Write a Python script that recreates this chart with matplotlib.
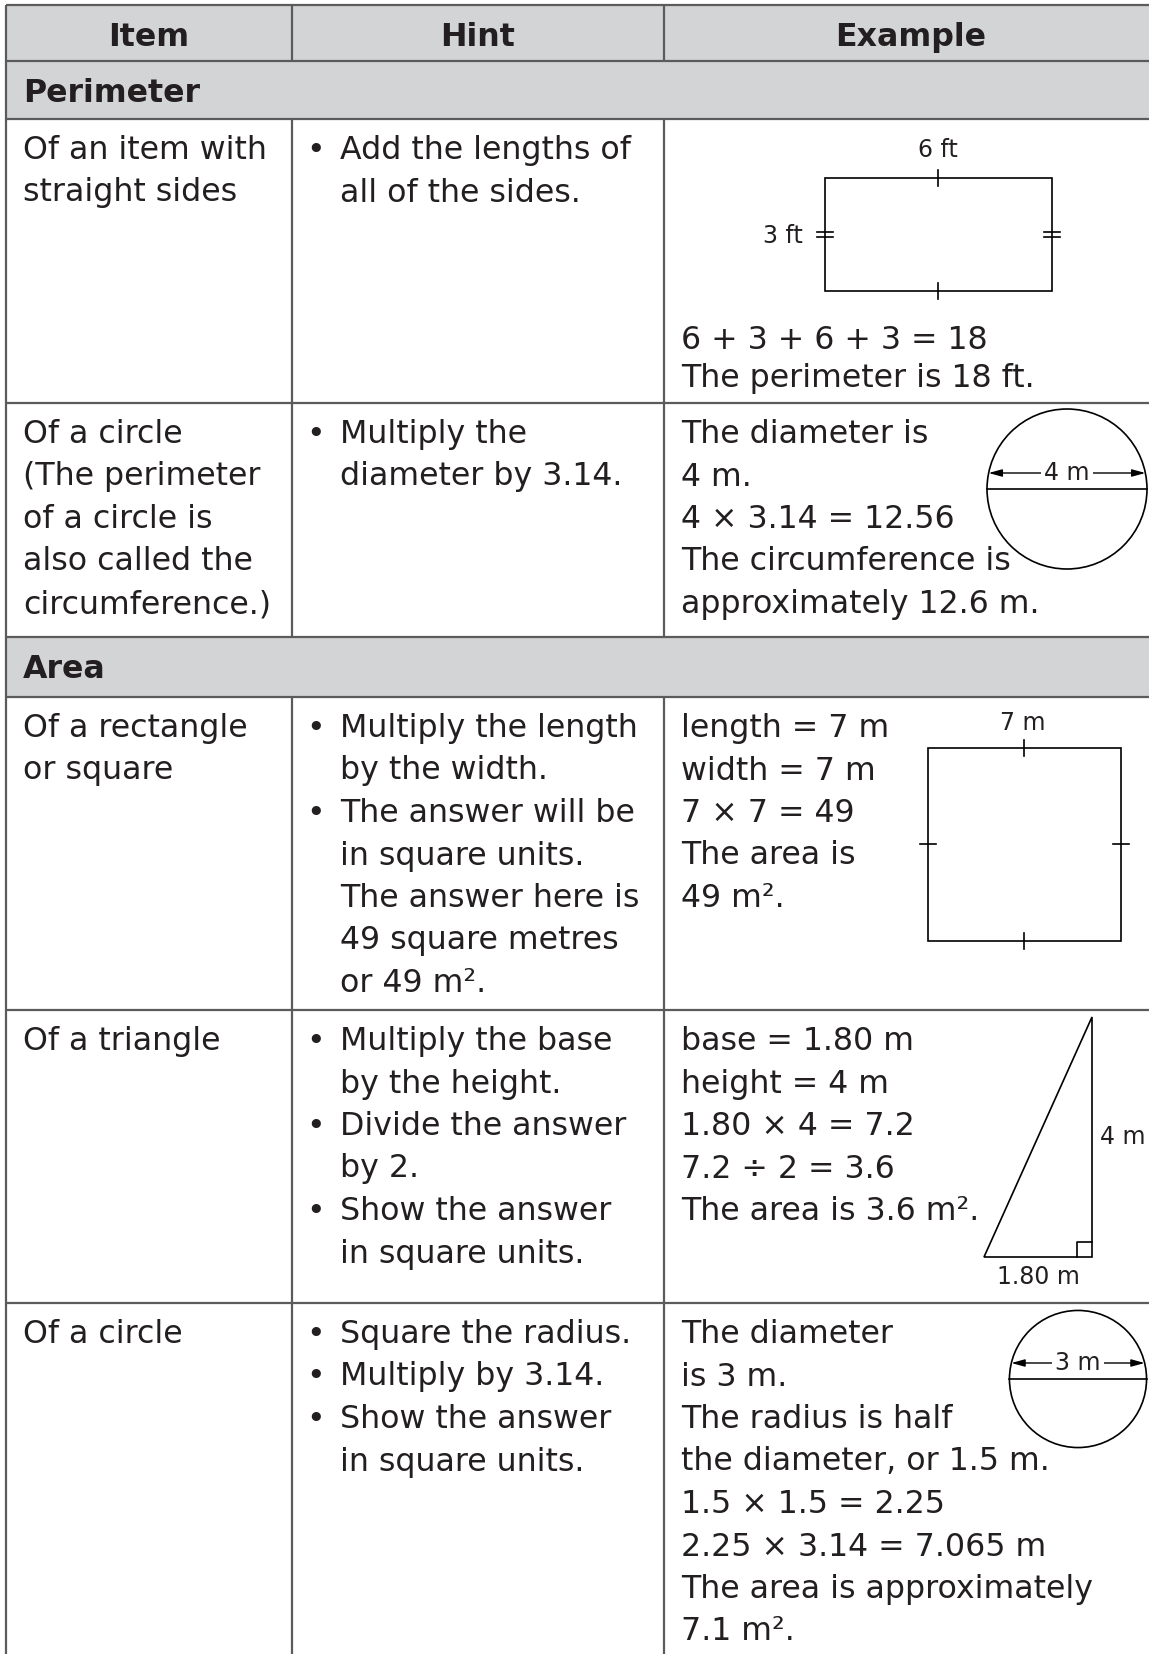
import numpy as np
import matplotlib
matplotlib.use('Agg')
import matplotlib.pyplot as plt
from matplotlib.patches import Rectangle, Circle, Polygon

plt.rcParams['font.family'] = 'DejaVu Sans'

# ---- table content ----
headers = ['Item', 'Hint', 'Example']
sections = ['Perimeter', 'Area']

items = [
    ['Of an item with', 'straight sides'],
    ['Of a circle', '(The perimeter', 'of a circle is', 'also called the', 'circumference.)'],
    ['Of a rectangle', 'or square'],
    ['Of a triangle'],
    ['Of a circle'],
]

hints = [
    [['Add the lengths of', 'all of the sides.']],
    [['Multiply the', 'diameter by 3.14.']],
    [['Multiply the length', 'by the width.'],
     ['The answer will be', 'in square units.', 'The answer here is', '49 square metres', 'or 49 m\u00b2.']],
    [['Multiply the base', 'by the height.'], ['Divide the answer', 'by 2.'],
     ['Show the answer', 'in square units.']],
    [['Square the radius.'], ['Multiply by 3.14.'], ['Show the answer', 'in square units.']],
]

examples = [
    ['6 + 3 + 6 + 3 = 18', 'The perimeter is 18 ft.'],
    ['The diameter is', '4 m.', '4 \u00d7 3.14 = 12.56', 'The circumference is', 'approximately 12.6 m.'],
    ['length = 7 m', 'width = 7 m', '7 \u00d7 7 = 49', 'The area is', '49 m\u00b2.'],
    ['base = 1.80 m', 'height = 4 m', '1.80 \u00d7 4 = 7.2', '7.2 \u00f7 2 = 3.6', 'The area is 3.6 m\u00b2.'],
    ['The diameter', 'is 3 m.', 'The radius is half', 'the diameter, or 1.5 m.',
     '1.5 \u00d7 1.5 = 2.25', '2.25 \u00d7 3.14 = 7.065 m', 'The area is approximately', '7.1 m\u00b2.'],
]

# diagram values
rect_ft = (6, 3)
square_m = (7, 7)
triangle_m = (1.80, 4)
circle_d = (4, 3)

# ---- layout (pixels) ----
W, H = 1149, 1654
col_x = [6.3, 292, 664, 1170]
row_y = [5.3, 61, 119, 403, 637, 697, 1010, 1303, 1670]
row_kind = ['head', 'sec', 'body', 'body', 'sec', 'body', 'body', 'body']

fs = 22.8
fs_small = 17
txt = '#231f20'
grid = '#5b5b5b'
fill = '#d3d4d6'
step = 42.5

fig = plt.figure(figsize=(W / 100, H / 100), dpi=100)
ax = fig.add_axes([0, 0, 1, 1])
ax.set_xlim(0, W)
ax.set_ylim(H, 0)
ax.axis('off')

# shaded rows
for i, kind in enumerate(row_kind):
    if kind in ('head', 'sec'):
        ax.add_patch(Rectangle((col_x[0], row_y[i]), col_x[-1] - col_x[0], row_y[i + 1] - row_y[i],
                               facecolor=fill, edgecolor='none', zorder=0))

# grid lines
ax.hlines(row_y[:-1], col_x[0], col_x[-1], color=grid, lw=1.6, zorder=3)
ax.vlines(col_x[0], row_y[0], row_y[-1], color=grid, lw=1.6, zorder=3)
for i, kind in enumerate(row_kind):
    if kind != 'sec':
        ax.vlines(col_x[1:3], row_y[i], row_y[i + 1], color=grid, lw=1.6, zorder=3)

# header
for j, h in enumerate(headers):
    ax.text((col_x[j] + min(col_x[j + 1], 1157)) / 2, row_y[0] + 41, h, ha='center', va='baseline',
            fontsize=fs, fontweight='bold', color=txt)

# sections and body text
sec_i = 0
body_i = 0
for i, kind in enumerate(row_kind):
    top = row_y[i]
    if kind == 'sec':
        ax.text(23, top + 41, sections[sec_i], ha='left', va='baseline',
                fontsize=fs, fontweight='bold', color=txt)
        sec_i += 1
    elif kind == 'body':
        b0 = top + 40
        for k, line in enumerate(items[body_i]):
            ax.text(23, b0 + k * step, line, va='baseline', fontsize=fs, color=txt)
        k = 0
        for bullet in hints[body_i]:
            ax.text(315.5, b0 + k * step, '\u2022', ha='center', va='baseline', fontsize=fs, color=txt)
            for line in bullet:
                ax.text(340, b0 + k * step, line, va='baseline', fontsize=fs, color=txt)
                k += 1
        if body_i == 0:
            ys = [row_y[i + 1] - 54, row_y[i + 1] - 16]
        else:
            ys = [b0 + k2 * step for k2 in range(len(examples[body_i]))]
        for line, y in zip(examples[body_i], ys):
            ax.text(681, y, line, va='baseline', fontsize=fs, color=txt)
        body_i += 1

dk = dict(color='black', lw=1.2, zorder=4)


def tick_v(x, y, half=8):
    ax.plot([x, x], [y - half, y + half], **dk)


def tick_h(x, y, half=8):
    ax.plot([x - half, x + half], [y, y], **dk)


# rectangle 6 ft x 3 ft
s = 37.8
rx, ry = 825, 178
rw, rh = rect_ft[0] * s, rect_ft[1] * s
ax.add_patch(Rectangle((rx, ry), rw, rh, fill=False, ec='black', lw=1.2, zorder=4))
tick_v(rx + rw / 2, ry)
tick_v(rx + rw / 2, ry + rh)
for dy in (-2.6, 2.6):
    tick_h(rx, ry + rh / 2 + dy)
    tick_h(rx + rw, ry + rh / 2 + dy)
ax.text(rx + rw / 2, ry - 21, f'{rect_ft[0]} ft', ha='center', va='baseline', fontsize=fs_small, color=txt)
ax.text(rx - 22, ry + rh / 2 + 8, f'{rect_ft[1]} ft', ha='right', va='baseline', fontsize=fs_small, color=txt)

# square 7 m x 7 m
s = 27.5
qx, qy = 928, 748
qw, qh = square_m[0] * s, square_m[1] * s
ax.add_patch(Rectangle((qx, qy), qw, qh, fill=False, ec='black', lw=1.2, zorder=4))
tick_v(qx + qw / 2, qy)
tick_v(qx + qw / 2, qy + qh)
tick_h(qx, qy + qh / 2)
tick_h(qx + qw, qy + qh / 2)
ax.text(qx + qw / 2 - 2, qy - 18, f'{square_m[0]} m', ha='center', va='baseline', fontsize=fs_small, color=txt)

# right triangle base 1.80 m, height 4 m
s = 60
cx_r, cy_b = 1092, 1257
tb, th = triangle_m[0] * s, triangle_m[1] * s
ax.add_patch(Polygon([(cx_r - tb, cy_b), (cx_r, cy_b), (cx_r, cy_b - th)], closed=True,
                     fill=False, ec='black', lw=1.2, zorder=4))
sq = 15
ax.plot([cx_r - sq, cx_r - sq, cx_r], [cy_b, cy_b - sq, cy_b - sq], **dk)
ax.text(cx_r + 8, cy_b - th / 2 + 7, f'{triangle_m[1]} m', ha='left', va='baseline', fontsize=fs_small, color=txt)
ax.text(cx_r - tb / 2, cy_b + 27, f'{triangle_m[0]:.2f} m', ha='center', va='baseline', fontsize=fs_small, color=txt)

# circles with diameter arrows
for (ccx, ccy, scale), d in zip([(1067, 489, 40.0), (1078, 1379, 45.7)], circle_d):
    r = d * scale / 2
    ax.add_patch(Circle((ccx, ccy), r, fill=False, ec='black', lw=1.2, zorder=4))
    ax.plot([ccx - r, ccx + r], [ccy, ccy], **dk)
    ya = ccy - 16
    half = np.sqrt(r ** 2 - 16 ** 2)
    ax.annotate('', xy=(ccx - half, ya), xytext=(ccx + half, ya),
                arrowprops=dict(arrowstyle='<|-|>,head_length=0.8,head_width=0.22', lw=1.0,
                                color='black', shrinkA=0, shrinkB=0), zorder=4)
    ax.text(ccx, ya, f'{d} m', ha='center', va='center', fontsize=fs_small, color=txt, zorder=5,
            bbox=dict(boxstyle='square,pad=0.12', fc='white', ec='none'))

fig.savefig('out.png', dpi=100)
